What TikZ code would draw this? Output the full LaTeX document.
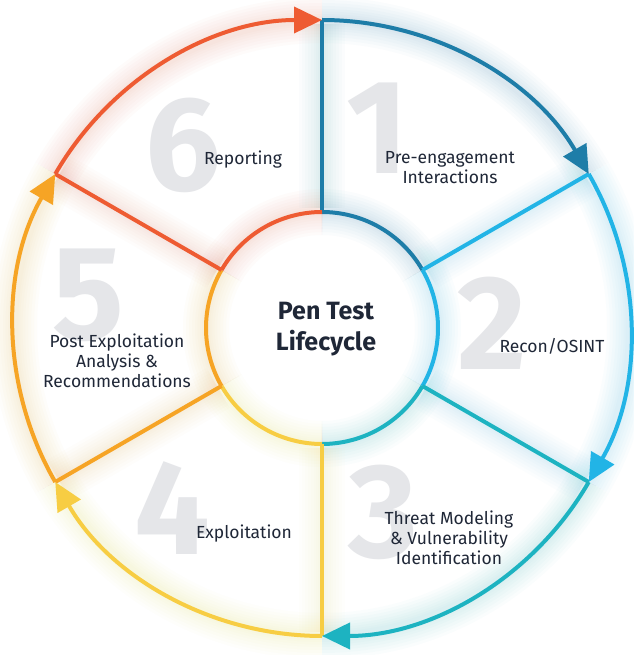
\documentclass[tikz,border=0pt]{standalone}
\usepackage{fontspec}
\setmainfont{Fira Sans}
\usetikzlibrary{arrows.meta}
\definecolor{cA}{HTML}{1E7DA8}
\definecolor{cB}{HTML}{22B4E6}
\definecolor{cC}{HTML}{1DB3C1}
\definecolor{cD}{HTML}{F7CD43}
\definecolor{cE}{HTML}{F6A425}
\definecolor{cF}{HTML}{EE5B32}
\definecolor{txt}{HTML}{1F2737}
\definecolor{numc}{HTML}{E5E6E9}
\begin{document}
\begin{tikzpicture}[x=1pt,y=1pt,
  ring/.style={line width=4pt},
  tipstyle/.style={-{Triangle[length=28pt,width=26pt]}},
  lab/.style={text=txt,font=\fontsize{17.5}{20}\selectfont,align=center,inner sep=0pt},
  bignum/.style={text=numc,font=\bfseries\fontsize{134}{134}\selectfont,inner sep=0pt},
  title/.style={text=txt,font=\bfseries\fontsize{25}{31}\selectfont,align=center,inner sep=0pt}]
\useasboundingbox[fill=white] (-322,-327) rectangle (311,328);
% centre
\coordinate (c) at (0,0);
% soft glow
\foreach \k/\s/\c in {1/90/cA,2/30/cB,3/-30/cC,4/-90/cD,5/-150/cE,6/150/cF}{
  \foreach \w in {46,40,34,28,22,17,12,8}{
    \draw[\c,line width=\w pt,opacity=0.018] (\s:308) arc[start angle=\s,end angle=\s-60,radius=308];
    \draw[\c,line width=\w pt,opacity=0.018] (\s:116) arc[start angle=\s,end angle=\s-60,radius=116];
    \draw[\c,line width=\w pt,opacity=0.014] (\s:120) -- (\s:304);
  }
}
% big numbers
\node[bignum] (n1) at (56,200) {1};
\node[bignum] (n2) at (170,5) {2};
\node[bignum] (n3) at (61,-184) {3};
\node[bignum] (n4) at (-150,-180) {4};
\node[bignum] (n5) at (-234,33) {5};
\node[bignum] (n6) at (-139,183) {6};
% rings, dividers and arrows
\foreach \k/\s/\c in {1/90/cA,2/30/cB,3/-30/cC,4/-90/cD,5/-150/cE,6/150/cF}{
  \coordinate (o\k) at (\s:308);
  \coordinate (i\k) at (\s:116);
  \draw[\c,ring] (i\k) -- (o\k);
  \draw[\c,ring] (i\k) arc[start angle=\s,end angle=\s-60,radius=116];
}
\foreach \k/\s/\c in {1/90/cA,2/30/cB,3/-30/cC,4/-90/cD,5/-150/cE,6/150/cF}{
  \draw[\c,ring,tipstyle] (o\k) arc[start angle=\s,end angle=\s-60,radius=308];
}
% labels
\node[title] (t) at (4,-1) {Pen Test\\Lifecycle};
\node[lab] (l1) at (128,160) {Pre-engagement\\Interactions};
\node[lab,anchor=base] (l2) at (230,-25) {Recon/OSINT};
\node[lab] (l3) at (127,-210) {Threat Modeling\\\& Vulnerability\\Identification};
\node[lab,anchor=base] (l4) at (-78,-210) {Exploitation};
\node[lab] (l5) at (-205,-33) {Post Exploitation\\Analysis \&\\Recommendations};
\node[lab,anchor=base] (l6) at (-79,163) {Reporting};
\end{tikzpicture}
\end{document}
